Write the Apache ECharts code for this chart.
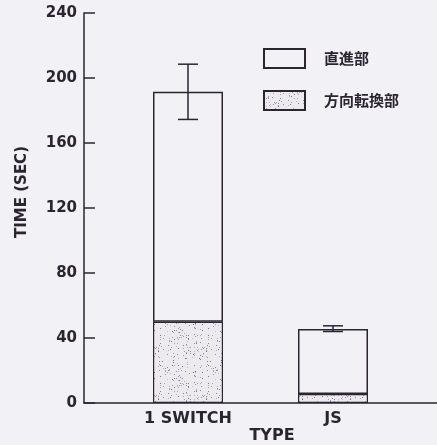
<!DOCTYPE html>
<html>
<head>
<meta charset="utf-8">
<script src="https://cdn.jsdelivr.net/npm/echarts@6/dist/echarts.min.js"></script>
<style>
  html, body { margin: 0; padding: 0; background: #f2f1f5; }
  #chart { width: 437px; height: 445px; }
</style>
</head>
<body>
<div id="chart"></div>
<script>
// values
const categories = ['1 SWITCH', 'JS'];
const turnTime = [50, 5.5];          // 方向転換部 (stippled, bottom)
const straightTime = [141.5, 40];    // 直進部 (open, top)
const errLow = [174.5, 44];
const errHigh = [208.5, 47.5];
const yMin = 0, yMax = 240, yStep = 40;

const ink = '#2a2630';
const bg = '#f2f1f5';
const font = 'DejaVu Sans';

// dotted texture for the stippled part (fixed seed so it never changes)
function stipple() {
  const n = 48;
  const c = document.createElement('canvas');
  c.width = c.height = n;
  const g = c.getContext('2d');
  g.fillStyle = '#ece9ef';
  g.fillRect(0, 0, n, n);
  let s = 12345;
  const rnd = () => (s = (s * 16807) % 2147483647) / 2147483647;
  for (let i = 0; i < 160; i++) {
    g.fillStyle = 'rgba(72,66,84,' + (0.25 + rnd() * 0.5).toFixed(2) + ')';
    g.fillRect(Math.floor(rnd() * n), Math.floor(rnd() * n), 1, 1);
  }
  return c;
}

const chart = echarts.init(document.getElementById('chart'));

const gridTop = 13, gridBottom = 42;

chart.setOption({
  backgroundColor: bg,
  animation: false,
  textStyle: { fontFamily: font, color: ink },
  grid: [
    // bars
    { left: 115.5, right: 31.5, top: gridTop, bottom: gridBottom, outerBoundsMode: 'none' },
    // full frame (axis lines)
    { left: 84, right: 0, top: gridTop, bottom: gridBottom, outerBoundsMode: 'none' }
  ],
  legend: {
    data: ['直進部', '方向転換部'],
    orient: 'vertical',
    left: 263,
    top: 48,
    padding: 0,
    icon: 'rect',
    itemWidth: 41,
    itemHeight: 19,
    itemGap: 21,
    textStyle: { fontSize: 15, color: ink, padding: [0, 0, 0, 14], fontFamily: '"Noto Sans CJK JP"', fontWeight: 'bold' }
  },
  xAxis: [
    {
      gridIndex: 0,
      type: 'category',
      data: categories,
      boundaryGap: true,
      axisLine: { show: false },
      axisTick: { show: false },
      axisLabel: { fontSize: 16, color: ink, margin: 8, fontFamily: font, fontWeight: 'bold' }
    },
    {
      gridIndex: 1,
      type: 'value',
      min: 0,
      max: 1,
      axisLine: { show: true, lineStyle: { color: ink, width: 1.5 } },
      axisTick: { show: false },
      axisLabel: { show: false },
      splitLine: { show: false },
      name: 'TYPE',
      nameLocation: 'middle',
      nameGap: 25,
      nameTextStyle: { fontSize: 16, color: ink, fontFamily: font, fontWeight: 'bold', padding: [0, 0, 0, 23] }
    }
  ],
  yAxis: [
    { gridIndex: 0, type: 'value', min: yMin, max: yMax, show: false },
    {
      gridIndex: 1,
      type: 'value',
      min: yMin,
      max: yMax,
      interval: yStep,
      axisLine: { show: true, lineStyle: { color: ink, width: 1.5 } },
      axisTick: { show: true, inside: true, length: 11, lineStyle: { color: ink, width: 1.5 } },
      axisLabel: { fontSize: 15, color: ink, margin: 7, fontFamily: font, fontWeight: 'bold' },
      splitLine: { show: false }
    }
  ],
  graphic: [{
    type: 'text',
    x: 22,
    y: 192,
    rotation: Math.PI / 2,
    style: {
      text: 'TIME (SEC)',
      font: 'bold 15px "DejaVu Sans"',
      fill: ink,
      align: 'center',
      verticalAlign: 'middle'
    }
  }],
  series: [
    {
      name: '方向転換部',
      type: 'bar',
      xAxisIndex: 0,
      yAxisIndex: 0,
      stack: 'time',
      barWidth: 70,
      data: turnTime,
      itemStyle: { color: { image: stipple(), repeat: 'repeat' }, borderColor: ink, borderWidth: 1.2 }
    },
    {
      name: '直進部',
      type: 'bar',
      xAxisIndex: 0,
      yAxisIndex: 0,
      stack: 'time',
      barWidth: 70,
      data: straightTime,
      itemStyle: { color: bg, borderColor: ink, borderWidth: 1.5 }
    },
    {
      name: 'error',
      type: 'custom',
      xAxisIndex: 0,
      yAxisIndex: 0,
      z: 5,
      data: categories.map((c, i) => [i, errLow[i], errHigh[i]]),
      encode: { x: 0, y: [1, 2] },
      renderItem(params, api) {
        const x = api.value(0);
        const lo = api.coord([x, api.value(1)]);
        const hi = api.coord([x, api.value(2)]);
        const hw = 10;
        const style = { stroke: ink, lineWidth: 1.5 };
        return {
          type: 'group',
          children: [
            { type: 'line', shape: { x1: lo[0], y1: lo[1], x2: hi[0], y2: hi[1] }, style },
            { type: 'line', shape: { x1: hi[0] - hw, y1: hi[1], x2: hi[0] + hw, y2: hi[1] }, style },
            { type: 'line', shape: { x1: lo[0] - hw, y1: lo[1], x2: lo[0] + hw, y2: lo[1] }, style }
          ]
        };
      }
    }
  ]
});
</script>
</body>
</html>
